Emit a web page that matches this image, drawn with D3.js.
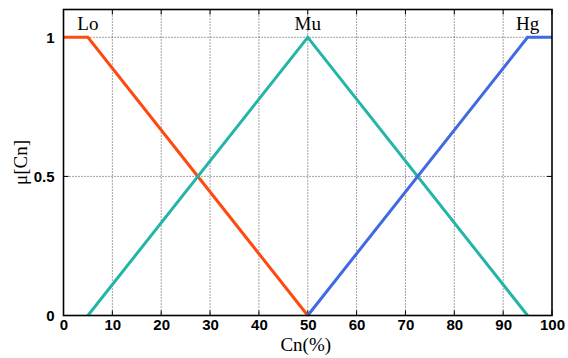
<!DOCTYPE html>
<html>
<head>
<meta charset="utf-8">
<script src="https://cdn.jsdelivr.net/npm/d3@7"></script>
<style>
  html, body { margin: 0; padding: 0; background: #fff; }
  svg { display: block; }
</style>
</head>
<body>
<svg id="chart" width="568" height="358"></svg>
<script>
// Membership functions for Cn (%): breakpoints of each fuzzy set
const xTicks = [0, 10, 20, 30, 40, 50, 60, 70, 80, 90, 100];
const yTicks = [0, 0.5, 1];
const yTickLabels = ["0", "0.5", "1"];
const setNames = ["Lo", "Mu", "Hg"];
const setColors = ["#ff4a0f", "#22b5a8", "#4169e1"];
const loX = [0, 5, 50];
const loY = [1, 1, 0];
const muX = [5, 50, 95];
const muY = [0, 1, 0];
const hgX = [50, 95, 100];
const hgY = [0, 1, 1];
const labelX = [5, 50, 95];

const svg = d3.select("#chart");
const m = { left: 63.5, right: 552, top: 9.5, bottom: 315.5 };
const serif = "'Liberation Serif', 'Times New Roman', serif";

const x = d3.scaleLinear().domain([0, 100]).range([m.left, m.right]);
const y = d3.scaleLinear().domain([0, 1.1]).range([m.bottom, m.top]);

// dotted grid
const grid = svg.append("g")
  .attr("stroke", "#333").attr("stroke-width", 0.9).attr("stroke-dasharray", "1,2");
grid.selectAll("line.gx").data(xTicks.filter(d => d > 0 && d < 100)).enter()
  .append("line")
  .attr("x1", d => x(d)).attr("x2", d => x(d))
  .attr("y1", m.top).attr("y2", m.bottom);
grid.selectAll("line.gy").data(yTicks.filter(d => d > 0)).enter()
  .append("line")
  .attr("x1", m.left).attr("x2", m.right)
  .attr("y1", d => y(d)).attr("y2", d => y(d));

// inward tick marks on all four sides
const tk = svg.append("g").attr("stroke", "#000").attr("stroke-width", 1);
xTicks.forEach(d => {
  tk.append("line").attr("x1", x(d)).attr("x2", x(d)).attr("y1", m.bottom).attr("y2", m.bottom - 5);
  tk.append("line").attr("x1", x(d)).attr("x2", x(d)).attr("y1", m.top).attr("y2", m.top + 5);
});
yTicks.forEach(d => {
  tk.append("line").attr("x1", m.left).attr("x2", m.left + 5).attr("y1", y(d)).attr("y2", y(d));
  tk.append("line").attr("x1", m.right).attr("x2", m.right - 5).attr("y1", y(d)).attr("y2", y(d));
});

// membership curves
const series = [[loX, loY], [muX, muY], [hgX, hgY]];
const line = d3.line().x(d => x(d[0])).y(d => y(d[1]));
series.forEach((s, i) => {
  const pts = s[0].map((v, k) => [v, s[1][k]]);
  svg.append("path").datum(pts)
    .attr("d", line)
    .attr("fill", "none")
    .attr("stroke", setColors[i])
    .attr("stroke-width", 3)
    .attr("stroke-linejoin", "miter");
});

// frame
svg.append("rect")
  .attr("x", m.left).attr("y", m.top)
  .attr("width", m.right - m.left).attr("height", m.bottom - m.top)
  .attr("fill", "none").attr("stroke", "#000").attr("stroke-width", 1.6);

// axes
const xAxis = d3.axisBottom(x).tickValues(xTicks).tickSize(0).tickPadding(4);
const gx = svg.append("g").attr("transform", `translate(0,${m.bottom})`).call(xAxis);
const yAxis = d3.axisLeft(y).tickValues(yTicks).tickFormat((d, i) => yTickLabels[i]).tickSize(0).tickPadding(9);
const gy = svg.append("g").attr("transform", `translate(${m.left},0)`).call(yAxis);
[gx, gy].forEach(g => {
  g.select(".domain").remove();
  g.selectAll("text")
    .attr("font-family", "'Liberation Sans', Arial, sans-serif")
    .attr("font-weight", "bold")
    .attr("font-size", 15)
    .attr("fill", "#000");
});
gy.selectAll("text").attr("dy", "0.35em");

// set names
svg.selectAll("text.setname").data(setNames).enter()
  .append("text")
  .attr("x", (d, i) => x(labelX[i]))
  .attr("y", 30)
  .attr("text-anchor", "middle")
  .attr("font-family", serif)
  .attr("font-size", 19)
  .text(d => d);

// axis titles
svg.append("text")
  .attr("x", x(50) - 2).attr("y", 351)
  .attr("text-anchor", "middle")
  .attr("font-family", serif)
  .attr("font-size", 19)
  .text("Cn(%)");
svg.append("text")
  .attr("transform", `translate(27,${y(0.55)}) rotate(-90)`)
  .attr("text-anchor", "middle")
  .attr("font-family", serif)
  .attr("font-size", 19)
  .text("μ[Cn]");
</script>
</body>
</html>
